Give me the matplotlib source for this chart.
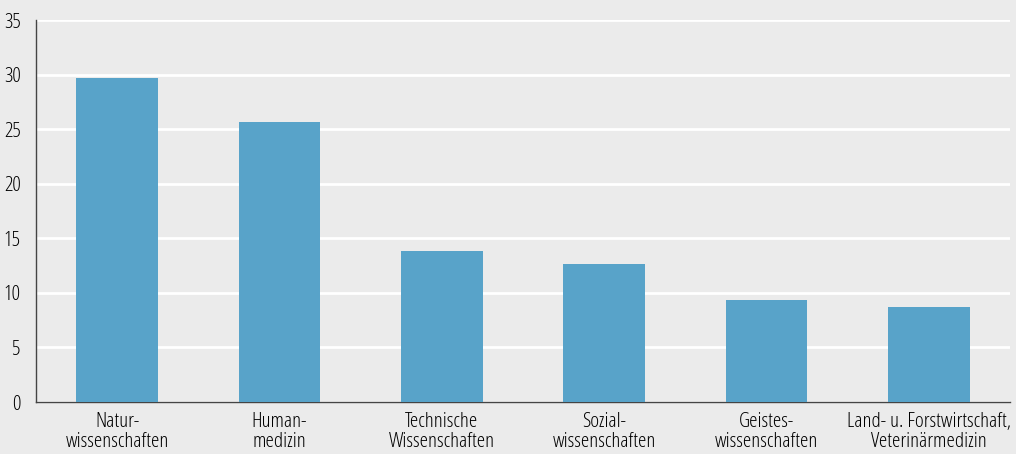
import matplotlib
matplotlib.use("Agg")
import matplotlib.pyplot as plt
from matplotlib import font_manager
from matplotlib.font_manager import FontProperties

categories = ["Natur-\nwissenschaften", "Human-\nmedizin", "Technische\nWissenschaften",
              "Sozial-\nwissenschaften", "Geistes-\nwissenschaften",
              "Land- u. Forstwirtschaft,\nVeterinärmedizin"]
values = [29.7, 25.65, 13.85, 12.65, 9.35, 8.7]
yticks = [0, 5, 10, 15, 20, 25, 30, 35]


def pick_font():
    fl = font_manager.fontManager.ttflist
    prefs = [("Open Sans", "semi-condensed"), ("Open Sans", "condensed"),
             ("Roboto Condensed", None), ("Liberation Sans Narrow", None),
             ("Open Sans", None)]
    for name, stretch in prefs:
        cands = [f for f in fl if f.name == name and f.style == "normal"
                 and (stretch is None or f.stretch == stretch)]
        if cands:
            cands.sort(key=lambda f: abs((f.weight if isinstance(f.weight, int) else 400) - 420))
            return cands[0].fname
    return None


fpath = pick_font()

def fp(size):
    if fpath:
        return FontProperties(fname=fpath, size=size)
    return FontProperties(family="DejaVu Sans", size=size)

bg = "#ebebeb"
fig = plt.figure(figsize=(10.16, 4.54), dpi=100, facecolor=bg)

# choose font size so that the longest label line is about as wide as in the reference
renderer = fig.canvas.get_renderer()
t = fig.text(0, 0, "Land- u. Forstwirtschaft,", fontproperties=fp(12))
w = t.get_window_extent(renderer).width
t.remove()
size = max(9, min(16, 12 * 162 / w))

ax = fig.add_axes([36/1016, 1-402/454, (1010-36)/1016, (402-20)/454])
ax.set_facecolor(bg)
x = list(range(len(categories)))
ax.bar(x, values, width=0.505, color="#58a3c9", zorder=3)
ax.set_xlim(-0.5, 5.5)
ax.set_ylim(0, 35)
ax.set_yticks(yticks)
ax.set_xticks(x)
ax.set_xticklabels(categories, fontproperties=fp(size), linespacing=1.0)
ax.set_yticklabels([str(v) for v in yticks], fontproperties=fp(size))
ax.tick_params(axis='y', length=0, pad=11)
ax.tick_params(axis='x', length=0, pad=7)
ax.yaxis.grid(True, color="white", linewidth=2, zorder=1)
ax.set_axisbelow(True)
for s in ["top", "right"]:
    ax.spines[s].set_visible(False)
for s in ["left", "bottom"]:
    ax.spines[s].set_color("#444444")
    ax.spines[s].set_linewidth(1)
fig.savefig("out.png", dpi=100, facecolor=bg)
